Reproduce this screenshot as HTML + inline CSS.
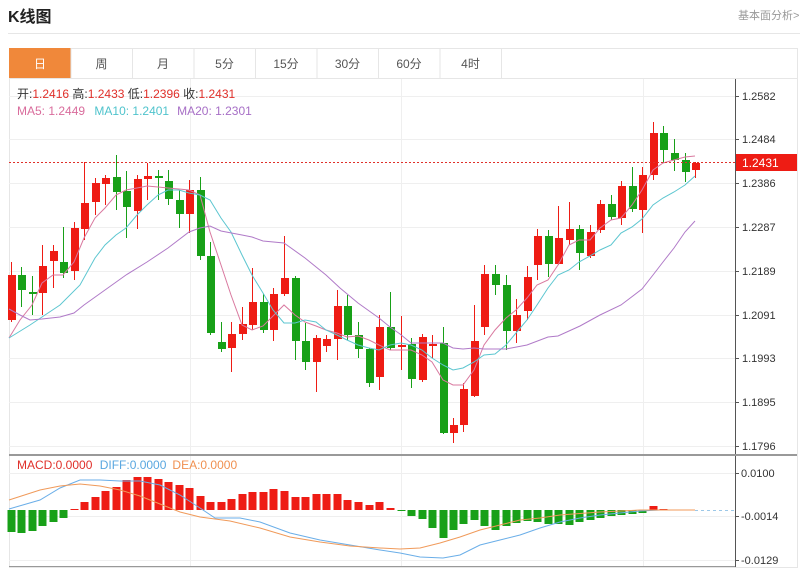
<!DOCTYPE html>
<html><head><meta charset="utf-8"><style>
body{margin:0;width:800px;height:570px;background:#fff;overflow:hidden;font-family:"Liberation Sans","Noto Sans CJK SC",sans-serif}
</style></head><body>
<svg width="800" height="570" xmlns="http://www.w3.org/2000/svg" font-family="Liberation Sans, Noto Sans CJK SC, sans-serif">
<text x="8" y="22" font-size="16" font-weight="bold" fill="#222">K线图</text>
<text x="738" y="19" font-size="11" fill="#999">基本面分析&gt;</text>
<line x1="8" y1="33.5" x2="800" y2="33.5" stroke="#e6e6e6"/>
<rect x="9.5" y="48.5" width="788" height="519" fill="none" stroke="#e6e6e6"/>
<g id="tabs"></g>
<g id="grid" stroke="#efefef"></g>
<g id="chart"></g>
<text x="17" y="98" font-size="12" fill="#333">开:<tspan fill="#e0302a">1.2416</tspan>  高:<tspan fill="#e0302a">1.2433</tspan>  低:<tspan fill="#e0302a">1.2396</tspan>  收:<tspan fill="#e0302a">1.2431</tspan></text>
<text x="17" y="115" font-size="12" fill="#d96c9c">MA5: 1.2449 <tspan dx="6" fill="#4fc3cc">MA10: 1.2401</tspan><tspan dx="8" fill="#a76fc6">MA20: 1.2301</tspan></text>
<text x="17" y="469" font-size="12" fill="#e0302a">MACD:0.0000 <tspan dx="4" fill="#5aa7e0">DIFF:0.0000</tspan><tspan dx="6" fill="#f09050">DEA:0.0000</tspan></text>
</svg>
<script>
const NS="http://www.w3.org/2000/svg";
function el(p,t,a,txt){const e=document.createElementNS(NS,t);for(const k in a)e.setAttribute(k,a[k]);if(txt!==undefined)e.textContent=txt;document.getElementById(p).appendChild(e);return e;}
// tabs
const tabs=["日","周","月","5分","15分","30分","60分","4时"];
tabs.forEach((t,i)=>{const x=9+i*61.5;
el("tabs","rect",{x:x+0.5,y:48.5,width:61.5,height:30,fill:i==0?"#f0883a":"#fff",stroke:i==0?"#f0883a":"#e6e6e6"});
el("tabs","text",{x:x+31,y:68,"font-size":12,"text-anchor":"middle",fill:i==0?"#fff":"#555"},t);});
el("tabs","line",{x1:501,y1:48.5,x2:797,y2:48.5,stroke:"#e6e6e6"});
el("tabs","line",{x1:9,y1:78.5,x2:797,y2:78.5,stroke:"#e6e6e6"});
// grid
const py=[96,139,183,227,271,315,358,402,446],pl=["1.2582","1.2484","1.2386","1.2287","1.2189","1.2091","1.1993","1.1895","1.1796"];
py.forEach((y,i)=>{el("grid","line",{x1:9,y1:y+.5,x2:735,y2:y+.5});el("chart","line",{x1:735,y1:y+.5,x2:739,y2:y+.5,stroke:"#555"});el("chart","text",{x:742,y:y+4,"font-size":11,fill:"#333"},pl[i]);});
[473,516].forEach(y=>el("grid","line",{x1:9,y1:y+.5,x2:735,y2:y+.5}));
el("grid","line",{x1:9,y1:560.5,x2:735,y2:560.5});
[190,401,643].forEach(x=>el("grid","line",{x1:x+.5,y1:79,x2:x+.5,y2:566}));
el("chart","line",{x1:735.5,y1:79,x2:735.5,y2:567,stroke:"#555"});
el("chart","line",{x1:9,y1:455,x2:797,y2:455,stroke:"#999","stroke-width":2});
el("chart","line",{x1:9,y1:566.5,x2:735,y2:566.5,stroke:"#999"});
[["0.0100",473],["-0.0014",516],["-0.0129",560]].forEach(a=>{el("chart","line",{x1:735,y1:a[1]+.5,x2:739,y2:a[1]+.5,stroke:"#555"});el("chart","text",{x:741,y:a[1]+4,"font-size":11,fill:"#333"},a[0]);});
// candles [x, open, close, high, low] in px
const C=[[11,320,275,262,322],[21,275,290,267,307],[32,292,294,276,315],[42,293,266,245,315],[53,261,251,245,288],[63,262,273,227,278],[74,271,228,222,280],[84,229,203,162,240],[95,202,183,178,215],[105,184,178,175,205],[116,177,192,155,210],[126,191,207,171,238],[137,211,179,175,229],[147,179,176,163,200],[158,176,178,170,200],[168,181,199,170,205],[179,200,214,190,228],[189,214,190,180,233],[200,190,256,177,260],[210,256,333,242,335],[221,342,349,322,352],[231,348,334,322,372],[242,334,324,307,340],[252,325,302,268,330],[263,302,330,294,333],[273,330,294,288,341],[284,294,278,236,296],[295,278,341,276,360],[305,341,362,323,370],[316,362,338,335,392],[326,346,339,335,352],[337,339,306,290,360],[347,306,335,295,340],[358,335,349,322,358],[369,349,383,348,387],[379,377,327,315,390],[390,327,348,292,350],[401,347,345,316,370],[411,344,379,338,388],[422,380,337,334,382],[432,346,344,335,358],[443,343,433,327,434],[453,433,425,418,443],[463,425,389,383,432],[474,396,341,305,397],[484,327,274,265,335],[495,274,285,265,295],[506,285,331,275,350],[516,331,315,299,343],[527,311,277,266,320],[537,265,236,229,280],[548,236,264,230,277],[558,264,238,206,265],[569,240,229,202,245],[579,229,253,225,270],[590,256,232,225,258],[600,230,204,200,233],[611,204,217,195,220],[621,218,186,181,225],[632,186,209,167,212],[642,210,175,167,233],[653,175,133,122,180],[663,133,150,126,163],[674,153,160,139,171],[685,160,172,153,182],[695,170,163,162,178]];
C.forEach(c=>{const up=c[2]<c[1],col=up?"#ee1c14":"#18a018";
el("chart","line",{x1:c[0]+.5,y1:c[3],x2:c[0]+.5,y2:c[4],stroke:col});
const t=Math.min(c[1],c[2]),h=Math.max(2,Math.abs(c[1]-c[2]));
el("chart","rect",{x:c[0]-3,y:t,width:8,height:h,fill:col});});
function pl2(pts,col,w,extra){const a={points:pts.map(p=>p.join(",")).join(" "),fill:"none",stroke:col,"stroke-width":w||1};Object.assign(a,extra||{});el("chart","polyline",a);}
pl2([[9,338],[20,320],[32,305],[42,283],[53,275],[63,275],[74,262],[84,238],[95,218],[105,208],[116,195],[126,190],[137,188],[147,186],[158,187],[168,188],[179,189],[189,190],[200,195],[210,232],[221,265],[231,295],[242,325],[252,330],[263,326],[273,316],[284,305],[295,315],[305,322],[316,326],[326,330],[337,333],[347,337],[358,336],[369,340],[379,345],[390,350],[401,350],[411,350],[422,355],[432,362],[443,380],[453,385],[463,385],[474,370],[484,345],[495,330],[506,318],[516,310],[527,298],[537,285],[548,280],[558,265],[569,245],[579,240],[590,240],[600,228],[611,220],[621,218],[632,205],[642,190],[653,170],[663,163],[674,160],[685,157],[695,156]],"#d9799f");
pl2([[9,338],[30,325],[60,305],[80,285],[95,258],[105,245],[116,235],[126,228],[137,215],[147,205],[158,195],[168,190],[179,190],[189,193],[200,195],[210,200],[221,218],[231,232],[242,255],[252,275],[263,293],[273,310],[284,323],[295,323],[305,320],[316,322],[326,330],[337,335],[347,340],[358,345],[369,348],[379,350],[390,345],[401,343],[411,345],[422,350],[432,358],[443,365],[453,370],[463,368],[474,362],[484,355],[495,354],[506,345],[516,333],[527,320],[537,305],[548,288],[558,275],[569,270],[579,262],[590,256],[600,250],[611,245],[621,233],[632,227],[642,219],[653,205],[663,198],[674,192],[685,185],[695,176]],"#5cc6d0");
pl2([[9,309],[20,315],[30,320],[42,319],[60,317],[74,313],[84,305],[105,290],[126,275],[147,262],[168,248],[189,232],[200,228],[210,226],[221,231],[242,235],[252,237],[263,241],[284,243],[305,258],[326,275],[340,288],[358,303],[379,318],[390,327],[400,334],[411,343],[432,343],[443,343],[453,348],[463,349],[474,348],[484,349],[495,349],[506,349],[527,345],[548,337],[558,336],[580,326],[600,315],[621,305],[642,289],[653,275],[663,262],[674,248],[685,232],[695,221]],"#b07ac8");
el("chart","line",{x1:9,y1:162.5,x2:735,y2:162.5,stroke:"#e0302a","stroke-dasharray":"2,2"});
el("chart","rect",{x:736,y:154,width:61,height:17,fill:"#ee1c14"});
el("chart","text",{x:742,y:167,"font-size":12,fill:"#fff"},"1.2431");
// MACD
const Z=510;
const M=[-22,-23,-21,-16,-12,-8,1,8,13,19,23,30,33,33,31,28,25,22,14,8,8,11,16,18,18,21,19,13,13,16,16,16,10,8,5,8,2,-1,-6,-9,-18,-28,-20,-14,-10,-16,-20,-16,-13,-11,-12,-14,-14,-15,-12,-10,-8,-6,-5,-4,-3,4,1,0,0,0];
M.forEach((v,i)=>{if(!v)return;const x=C[i][0];el("chart","rect",{x:x-3.5,y:v>0?Z-v:Z,width:8,height:Math.abs(v),fill:v>0?"#ee1c14":"#18a018"});});
pl2([[9,509],[40,500],[60,488],[80,480],[100,480],[120,481],[140,481],[160,485],[180,495],[200,508],[215,518],[240,518],[260,522],[290,533],[320,540],[350,545],[380,550],[400,553],[420,557],[443,558],[460,555],[480,545],[500,540],[520,535],[540,528],[560,522],[580,518],[600,515],[620,513],[640,511],[660,510],[695,510]],"#6aaee8");
pl2([[9,500],[40,490],[60,486],[80,484],[100,486],[120,490],[140,496],[160,504],[180,512],[200,517],[230,521],[260,528],[290,537],[320,542],[350,546],[380,548],[400,549],[420,548],[440,543],[460,537],[480,530],[500,525],[520,520],[540,518],[560,515],[600,512],[640,510],[695,510]],"#f09a5a");
el("chart","line",{x1:695,y1:510.5,x2:735,y2:510.5,stroke:"#9cc8e8","stroke-dasharray":"3,3"});
</script>
</body></html>
